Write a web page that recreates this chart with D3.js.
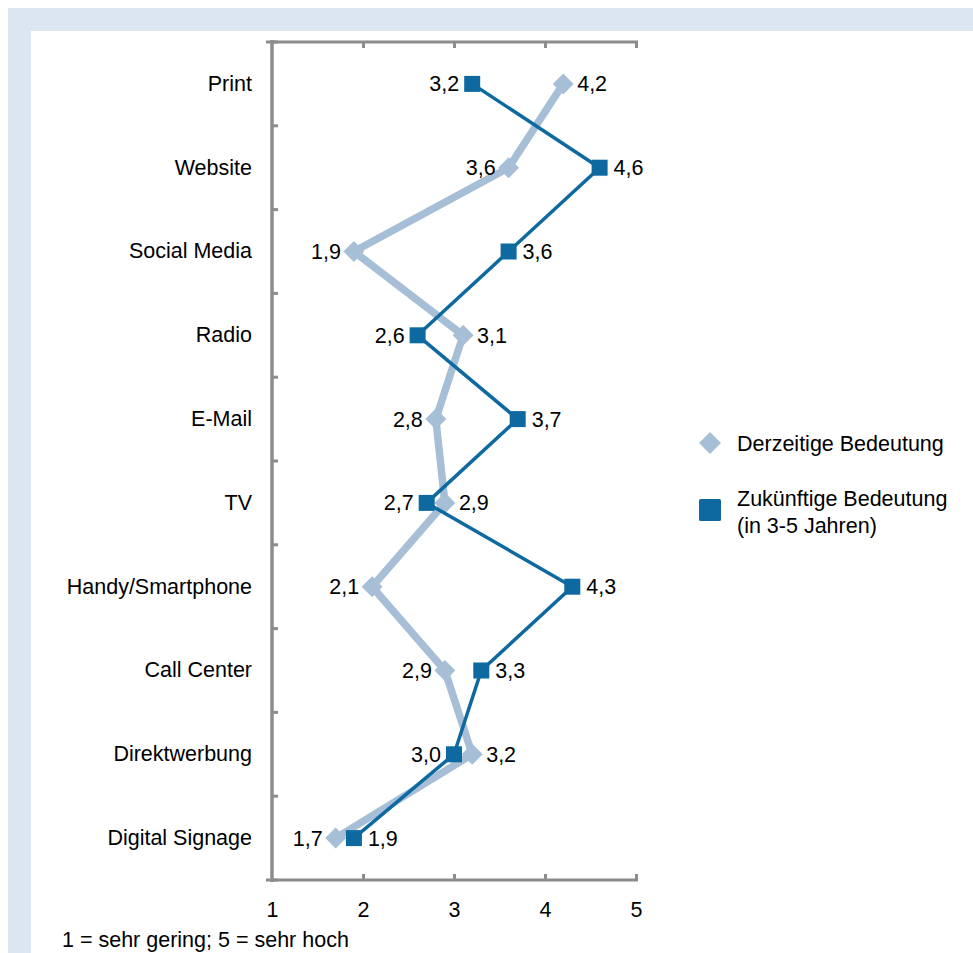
<!DOCTYPE html>
<html>
<head>
<meta charset="utf-8">
<script src="https://cdn.jsdelivr.net/npm/d3@7/dist/d3.min.js"></script>
<style>
  html, body { margin: 0; padding: 0; background: #ffffff; }
  svg { display: block; font-family: "Liberation Sans", Arial, sans-serif; }
</style>
</head>
<body>
<svg id="chart" width="973" height="953"></svg>
<script>
// Channel categories (top to bottom)
const categories = ["Print", "Website", "Social Media", "Radio", "E-Mail", "TV",
  "Handy/Smartphone", "Call Center", "Direktwerbung", "Digital Signage"];

// Current importance (1 = very low, 5 = very high)
const currentValues = [4.2, 3.6, 1.9, 3.1, 2.8, 2.9, 2.1, 2.9, 3.2, 1.7];
// Future importance (in 3-5 years)
const futureValues = [3.2, 4.6, 3.6, 2.6, 3.7, 2.7, 4.3, 3.3, 3.0, 1.9];

const xTicks = [1, 2, 3, 4, 5];
const seriesNames = ["Derzeitige Bedeutung", "Zukünftige Bedeutung", "(in 3-5 Jahren)"];
const footnote = "1 = sehr gering; 5 = sehr hoch";

const lightColor = "#a6bed6";
const darkColor = "#0e69a1";
const axisColor = "#8c8c8c";
const fontSize = 21.5;
const fmt = v => d3.format(".1f")(v).replace(".", ",");

const svg = d3.select("#chart");

// Frame
svg.append("rect").attr("x", 8).attr("y", 8).attr("width", 965).attr("height", 945).attr("fill", "#dce6f1");
svg.append("rect").attr("x", 31).attr("y", 31).attr("width", 942).attr("height", 922).attr("fill", "#ffffff");

const plot = { left: 272, right: 636, top: 42, bottom: 880 };

const x = d3.scaleLinear().domain([1, 5]).range([plot.left, plot.right]);
const y = d3.scaleBand().domain(categories).range([plot.top, plot.bottom]).padding(0);
const yc = c => y(c) + y.bandwidth() / 2;

// Axes
const axisG = svg.append("g");
const xBottom = axisG.append("g").attr("transform", `translate(0,${plot.bottom})`)
  .call(d3.axisBottom(x).tickValues(xTicks).tickSize(-6).tickPadding(22).tickFormat(d3.format("d")));
const xTop = axisG.append("g").attr("transform", `translate(0,${plot.top})`)
  .call(d3.axisTop(x).tickValues(xTicks).tickSize(-6).tickFormat(""));
const yLeft = axisG.append("g").attr("transform", `translate(${plot.left},0)`)
  .call(d3.axisLeft(y).tickSize(0).tickPadding(20));

// Band boundary ticks on the category axis
const boundaries = d3.range(categories.length + 1).map(i => plot.top + i * y.bandwidth());
axisG.append("g").selectAll("line").data(boundaries).join("line")
  .attr("x1", plot.left).attr("x2", plot.left + 6)
  .attr("y1", d => d).attr("y2", d => d)
  .attr("stroke", axisColor).attr("stroke-width", 3);

[xBottom, xTop, yLeft].forEach(g => {
  g.select(".domain").remove();
  g.selectAll(".tick line").attr("stroke", axisColor).attr("stroke-width", 3);
  g.selectAll("text").attr("fill", "#000").attr("font-size", fontSize)
    .attr("font-family", "Liberation Sans, Arial, sans-serif");
});
xBottom.selectAll(".tick line").filter(d => d === 1).remove();
xTop.selectAll(".tick line").filter(d => d === 1).remove();

// Axis lines (left, top, bottom)
axisG.append("line").attr("x1", plot.left).attr("x2", plot.left).attr("y1", plot.top - 2).attr("y2", plot.bottom + 2)
  .attr("stroke", axisColor).attr("stroke-width", 3.5);
axisG.append("line").attr("x1", plot.left - 6).attr("x2", plot.right + 2).attr("y1", plot.top).attr("y2", plot.top)
  .attr("stroke", axisColor).attr("stroke-width", 3);
axisG.append("line").attr("x1", plot.left - 6).attr("x2", plot.right + 2).attr("y1", plot.bottom).attr("y2", plot.bottom)
  .attr("stroke", axisColor).attr("stroke-width", 3);

// Series
const current = categories.map((c, i) => ({ c, v: currentValues[i], other: futureValues[i] }));
const future = categories.map((c, i) => ({ c, v: futureValues[i], other: currentValues[i] }));

const line = d3.line().x(d => x(d.v)).y(d => yc(d.c));

svg.append("path").datum(current).attr("d", line).attr("fill", "none")
  .attr("stroke", lightColor).attr("stroke-width", 7.5).attr("stroke-linejoin", "round");
svg.append("g").selectAll("path").data(current).join("path")
  .attr("d", d3.symbol(d3.symbolSquare, 220)())
  .attr("transform", d => `translate(${x(d.v)},${yc(d.c)}) rotate(45)`)
  .attr("fill", lightColor);

svg.append("path").datum(future).attr("d", line).attr("fill", "none")
  .attr("stroke", darkColor).attr("stroke-width", 3.5).attr("stroke-linejoin", "round");
svg.append("g").selectAll("rect").data(future).join("rect")
  .attr("x", d => x(d.v) - 8).attr("y", d => yc(d.c) - 8)
  .attr("width", 16).attr("height", 16).attr("fill", darkColor);

// Value labels: lower value on the left, higher on the right
const labels = svg.append("g").attr("font-size", fontSize).attr("fill", "#000");
[current, future].forEach((series, si) => {
  labels.selectAll(null).data(series).join("text")
    .attr("x", d => {
      const left = d.v < d.other || (d.v === d.other && si === 0);
      return left ? x(d.v) - 13 : x(d.v) + 14;
    })
    .attr("text-anchor", d => (d.v < d.other || (d.v === d.other && si === 0)) ? "end" : "start")
    .attr("y", d => yc(d.c))
    .attr("dy", "0.35em")
    .text(d => fmt(d.v));
});

// Legend
const legend = svg.append("g").attr("font-size", fontSize);
legend.append("path").attr("d", d3.symbol(d3.symbolSquare, 240)())
  .attr("transform", "translate(710,443) rotate(45)").attr("fill", lightColor);
legend.append("text").attr("x", 737).attr("y", 443).attr("dy", "0.35em").text(seriesNames[0]);
legend.append("rect").attr("x", 699).attr("y", 499).attr("width", 22).attr("height", 22)
  .attr("rx", 1.5).attr("fill", darkColor);
legend.append("text").attr("x", 737).attr("y", 498).attr("dy", "0.35em").text(seriesNames[1]);
legend.append("text").attr("x", 737).attr("y", 525).attr("dy", "0.35em").text(seriesNames[2]);

// Scale note
svg.append("text").attr("x", 62).attr("y", 947).attr("font-size", fontSize).text(footnote);
</script>
</body>
</html>
